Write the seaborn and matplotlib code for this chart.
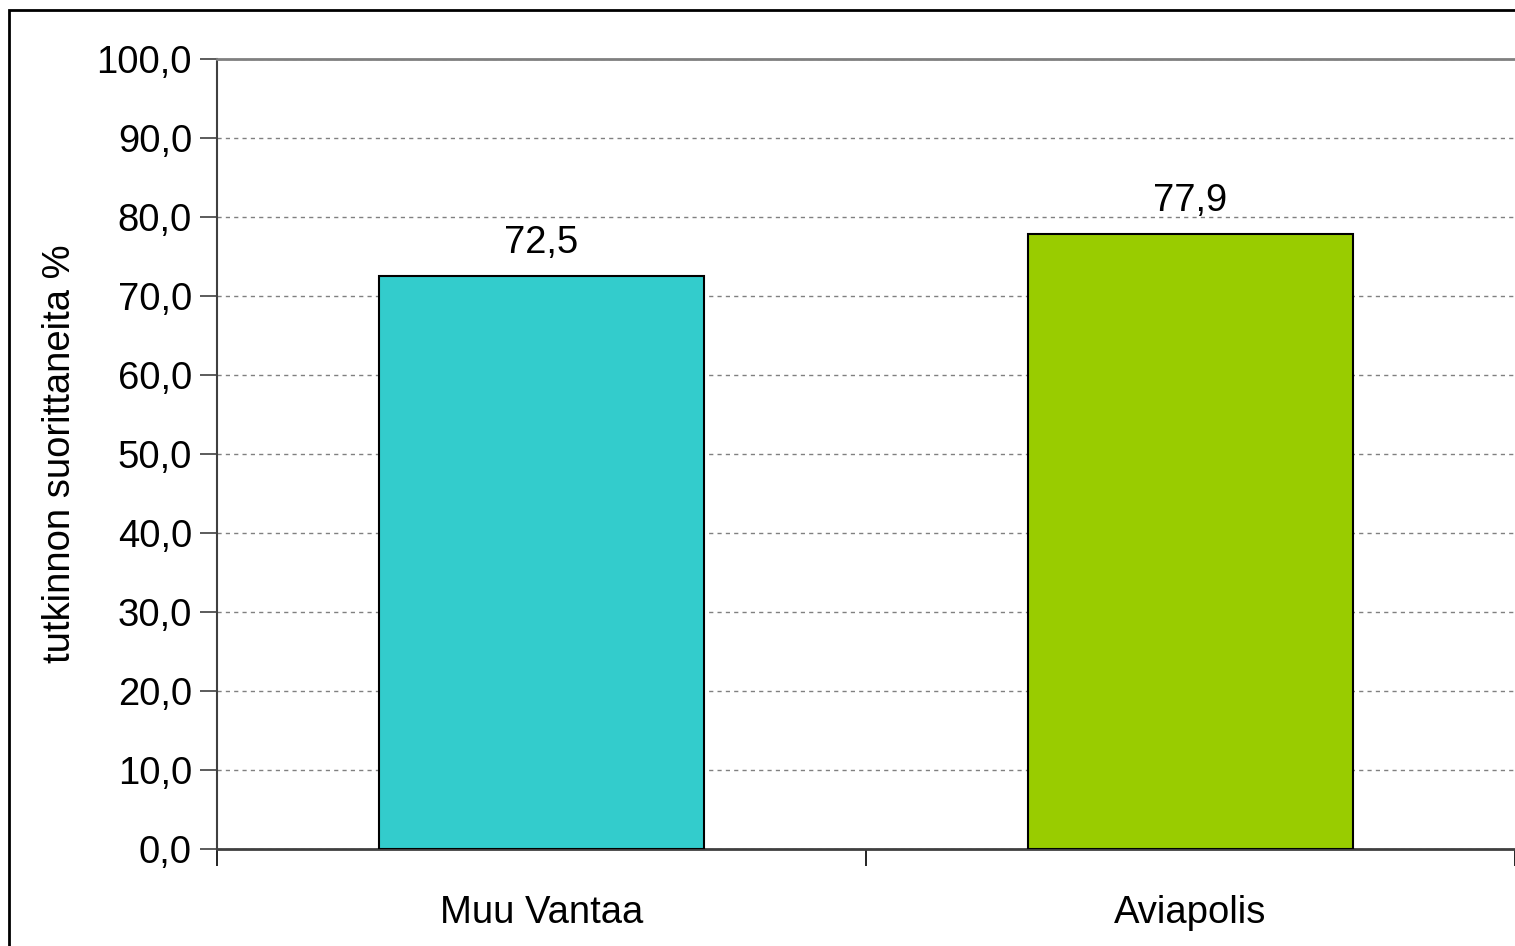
import pandas as pd
import seaborn as sns
import matplotlib.pyplot as plt
from matplotlib.patches import Rectangle
from matplotlib.ticker import FuncFormatter

# Data
alueet = ['Muu Vantaa', 'Aviapolis']
osuudet = [72.5, 77.9]
varit = ['#33CCCC', '#99CC00']

df = pd.DataFrame({'alue': alueet, 'osuus': osuudet})

sns.set_style('white')
plt.rcParams['font.family'] = ['Liberation Sans', 'DejaVu Sans']
plt.rcParams['text.color'] = 'black'
plt.rcParams['xtick.color'] = 'black'
plt.rcParams['ytick.color'] = 'black'
plt.rcParams['axes.labelcolor'] = 'black'

fig = plt.figure(figsize=(15.15, 9.46), dpi=100)
ax = fig.add_axes([217 / 1515, 1 - 849 / 946, 1 - 217 / 1515, (849 - 59) / 946])

sns.barplot(data=df, x='alue', y='osuus', hue='alue', palette=varit, legend=False,
            saturation=1, width=0.5, edgecolor='black', linewidth=1.5, ax=ax, zorder=3)

ax.set_xlim(-0.5, 1.5)
ax.set_ylim(0, 100)
ax.set_yticks(range(0, 101, 10))
ax.yaxis.set_major_formatter(FuncFormatter(lambda v, p: f'{v:.1f}'.replace('.', ',')))
ax.set_xticks([0, 1])
ax.set_xticklabels(alueet)
ax.set_xticks([-0.5, 0.5, 1.5], minor=True)

ax.grid(axis='y', color='#808080', linestyle=(0, (3, 3)), linewidth=1, zorder=0)
ax.tick_params(axis='y', which='major', length=12, width=1.2, color='#404040',
               labelsize=27.5, pad=6, left=True)
ax.tick_params(axis='x', which='major', length=0, labelsize=27.5, pad=33)
ax.tick_params(axis='x', which='minor', length=12, width=1.2, color='black', bottom=True)

ax.spines['right'].set_visible(False)
ax.spines['top'].set_color('#808080')
ax.spines['top'].set_linewidth(2)
ax.spines['left'].set_color('#404040')
ax.spines['left'].set_linewidth(1.5)
ax.spines['bottom'].set_color('#404040')
ax.spines['bottom'].set_linewidth(2)

ax.set_xlabel('')
ax.set_ylabel('tutkinnon suorittaneita %', fontsize=27.5, labelpad=13)

for i, v in enumerate(osuudet):
    ax.text(i, v + 2.9, f'{v:.1f}'.replace('.', ','), ha='center', va='baseline', fontsize=27.5)

# outer chart border
fig.patches.append(Rectangle((9 / 1515, -0.1), 1.2, 1.1 - 10 / 946, transform=fig.transFigure,
                             fill=False, edgecolor='black', linewidth=2))

fig.savefig('out.png', dpi=100)
